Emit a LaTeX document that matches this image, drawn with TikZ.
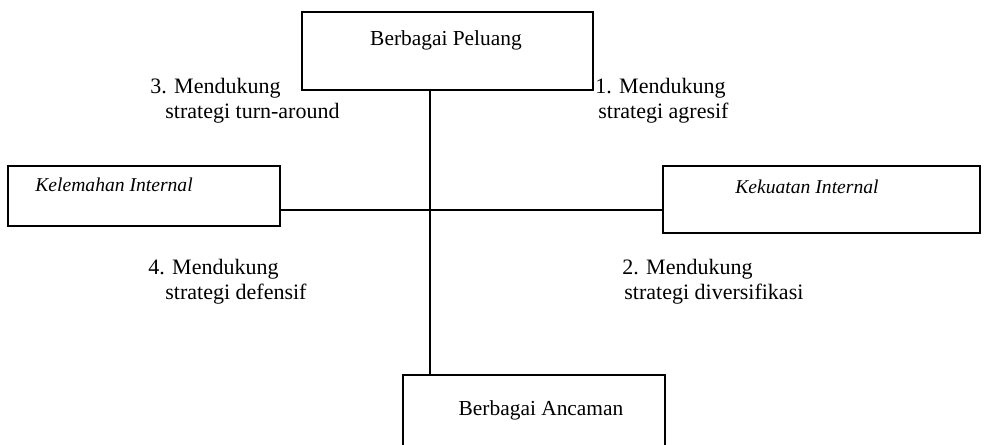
\documentclass[tikz,border=0pt]{standalone}
\usepackage{fontspec}
\setmainfont{Liberation Serif}
\usetikzlibrary{positioning}

\begin{document}
\begin{tikzpicture}[x=0.5pt, y=-0.5pt,
    kotak/.style={draw, line width=1.3pt, inner sep=0pt},
    judul/.style={font=\fontsize{10.7}{13}\selectfont},
    faktor/.style={anchor=west, inner sep=0pt, font=\fontsize{9.8}{12}\selectfont\itshape},
    ket/.style={anchor=north west, align=left, inner sep=0pt, font=\fontsize{11}{12.5}\selectfont}]

    \useasboundingbox (0,0) rectangle (987,445);
    \clip (0,0) rectangle (987,445);

    % the four boxes
    \node[kotak, minimum width=145.5pt, minimum height=39pt] (peluang) at (447.5,51) {};
    \node[kotak, minimum width=136pt, minimum height=30pt] (kelemahan) at (144,196) {};
    \node[kotak, minimum width=158.5pt, minimum height=33.5pt] (kekuatan) at (821.5,199.5) {};
    \node[kotak, minimum width=131pt, minimum height=45pt] (ancaman) at (534,420) {};

    % box texts
    \node[judul] (tpeluang) at (446,40) {Berbagai Peluang};
    \node[faktor] (tkelemahan) at (35,185) {Kelemahan Internal};
    \node[faktor] (tkekuatan) at (735,187) {Kekuatan Internal};
    \node[judul] (tancaman) at (541,410) {Berbagai Ancaman};

    % the axes
    \coordinate (pusat) at (430,210);
    \path[draw, line width=1.3pt] (pusat -| kelemahan.east) -- (pusat -| kekuatan.west);
    \path[draw, line width=1.3pt] (pusat |- peluang.south) -- (pusat |- ancaman.north);

    % quadrant notes
    \node[ket] (kuadran3) at (150,78) {3. Mendukung\\\hspace*{7.5pt}strategi turn-around};
    \node[ket] (kuadran1) at (595,78) {1. Mendukung\\\hspace*{1.5pt}strategi agresif};
    \node[ket] (kuadran4) at (148,259) {4. Mendukung\\\hspace*{8.5pt}strategi defensif};
    \node[ket] (kuadran2) at (622,259) {2. Mendukung\\\hspace*{1pt}strategi diversifikasi};

\end{tikzpicture}
\end{document}
